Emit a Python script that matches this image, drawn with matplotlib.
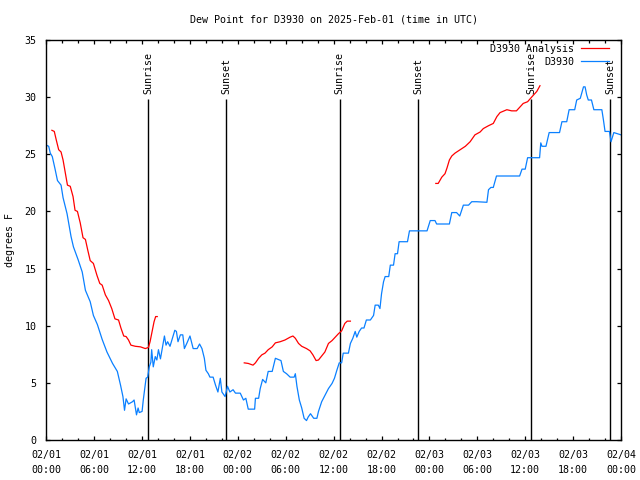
import matplotlib
matplotlib.use("Agg")
import matplotlib.pyplot as plt
import matplotlib.dates as mdates
import numpy as np
import pandas as pd

START = pd.Timestamp("2025-02-01 00:00")

# D3930 observations: hours after 02/01 00:00 UTC, dew point in F
OBS_HOURS = [
    0.0, 0.3, 0.5, 0.75, 1.1, 1.4, 1.85, 2.1, 2.6, 3.1, 3.4, 4.0, 4.5, 4.9, 5.5,
    5.9, 6.4, 7.0, 7.6, 8.3, 8.9, 9.3, 9.6, 9.8, 10.0, 10.3, 10.8, 11.0, 11.3,
    11.5, 11.65, 12.0, 12.15, 12.5, 12.7, 12.9, 13.1, 13.2, 13.4, 13.65, 13.85,
    14.05, 14.3, 14.5, 14.8, 15.0, 15.2, 15.5, 15.8, 16.1, 16.3, 16.5, 16.8,
    17.1, 17.3, 17.6, 18.0, 18.4, 18.9, 19.2, 19.5, 19.8, 20.0, 20.3, 20.5,
    20.9, 21.2, 21.5, 21.8, 22.0, 22.4, 22.7, 23.0, 23.4, 23.7, 24.3, 24.7,
    25.0, 25.3, 26.1, 26.2, 26.6, 26.8, 27.1, 27.5, 27.8, 28.3, 28.7, 29.4,
    29.7, 30.1, 30.55, 31.05, 31.2, 31.4, 31.7, 32.0, 32.3, 32.6, 32.8, 33.1,
    33.5, 33.9, 34.1, 34.5, 34.9, 35.35, 35.8, 36.1, 36.4, 36.7, 37.0, 37.2,
    37.85, 38.1, 38.4, 38.7, 38.9, 39.2, 39.5, 39.8, 40.1, 40.6, 41.0, 41.2,
    41.6, 41.8, 42.0, 42.25, 42.45, 42.9, 43.1, 43.5, 43.7, 44.0, 44.2, 45.25,
    45.5, 47.7, 48.1, 48.7, 48.9, 50.5, 50.8, 51.4, 51.8, 52.25, 52.9, 53.3,
    53.9, 55.2, 55.4, 55.7, 56.0, 56.4, 59.3, 59.6, 60.0, 60.3, 61.8, 61.95,
    62.1, 62.6, 63.0, 64.3, 64.6, 65.2, 65.5, 66.2, 66.45, 66.9, 67.3, 67.5,
    67.7, 67.9, 68.3, 68.6, 69.6, 69.8, 70.0, 70.55, 70.75, 71.1, 72.0,
]
OBS_DEWPT = [
    25.8, 25.7, 25.1, 24.8, 23.7, 22.7, 22.3, 21.2, 19.8, 17.8, 16.9, 15.75,
    14.7, 13.1, 12.1, 10.9, 10.1, 8.8, 7.7, 6.7, 6.0, 4.8, 3.8, 2.6, 3.6, 3.15,
    3.35, 3.5, 2.2, 2.8, 2.4, 2.5, 3.5, 5.4, 5.5, 6.4, 6.8, 7.9, 6.4, 7.3, 7.0,
    7.9, 7.1, 7.9, 9.1, 8.3, 8.6, 8.2, 8.9, 9.6, 9.5, 8.6, 9.2, 9.2, 8.0, 8.45,
    9.1, 8.0, 8.0, 8.4, 8.0, 7.15, 6.1, 5.8, 5.5, 5.5, 4.8, 4.2, 5.4, 4.2, 3.8,
    4.7, 4.2, 4.4, 4.1, 4.1, 3.5, 3.65, 2.7, 2.7, 3.65, 3.65, 4.5, 5.3, 5.0,
    6.0, 6.0, 7.15, 6.95, 6.0, 5.8, 5.5, 5.5, 5.8, 4.7, 3.5, 2.8, 1.9, 1.7,
    2.0, 2.3, 1.9, 1.9, 2.5, 3.35, 3.9, 4.5, 4.95, 5.4, 6.1, 6.75, 6.75, 7.6,
    7.6, 8.45, 8.9, 9.5, 9.0, 9.5, 9.8, 9.8, 10.5, 10.5, 10.9, 11.8, 11.8,
    11.5, 12.8, 13.85, 14.3, 14.3, 15.3, 15.3, 16.3, 16.3, 17.35, 17.35, 18.3,
    18.3, 19.2, 19.2, 18.9, 18.9, 19.9, 19.9, 19.6, 20.55, 20.55, 20.85, 20.85,
    20.8, 21.9, 22.1, 22.1, 23.1, 23.1, 23.7, 23.7, 24.7, 24.7, 26.0, 25.7,
    25.7, 26.9, 26.9, 27.85, 27.85, 28.9, 28.9, 29.75, 29.9, 30.9, 30.9, 30.2,
    29.75, 29.75, 28.9, 28.9, 28.0, 27.0, 27.0, 26.1, 26.9, 26.7,
]

# D3930 analysis, three separate runs
ANA1_HOURS = [
    0.7, 1.0, 1.25, 1.55, 1.85, 2.1, 2.4, 2.65, 3.0, 3.35, 3.6, 3.9, 4.25, 4.6,
    4.9, 5.2, 5.5, 5.9, 6.35, 6.7, 7.0, 7.4, 7.8, 8.2, 8.6, 9.05, 9.35, 9.7,
    10.0, 10.3, 10.6, 11.15, 11.8, 12.4, 12.8, 13.0, 13.2, 13.5, 13.7, 13.9,
]
ANA1_DEWPT = [
    27.1, 27.0, 26.25, 25.4, 25.2, 24.5, 23.3, 22.3, 22.2, 21.3, 20.1, 20.0,
    19.0, 17.7, 17.55, 16.6, 15.7, 15.45, 14.4, 13.7, 13.55, 12.7, 12.2, 11.5,
    10.6, 10.5, 9.8, 9.1, 9.05, 8.75, 8.3, 8.2, 8.15, 8.0, 8.1, 8.6, 9.3,
    10.35, 10.8, 10.8,
]
ANA2_HOURS = [
    24.8, 25.3, 25.9, 26.2, 26.6, 27.0, 27.4, 27.8, 28.3, 28.7, 29.3, 29.9,
    30.55, 30.9, 31.2, 31.6, 32.0, 32.6, 33.05, 33.4, 33.8, 34.1, 34.5, 34.9,
    35.35, 35.8, 36.2, 36.6, 37.0, 37.4, 37.7, 38.1,
]
ANA2_DEWPT = [
    6.75, 6.7, 6.55, 6.75, 7.15, 7.45, 7.6, 7.9, 8.15, 8.5, 8.6, 8.75, 9.0,
    9.1, 8.9, 8.45, 8.2, 8.0, 7.8, 7.45, 6.95, 7.0, 7.35, 7.7, 8.45, 8.7, 9.0,
    9.3, 9.55, 10.2, 10.4, 10.4,
]
ANA3_HOURS = [
    48.8, 49.1, 49.55, 49.95, 50.2, 50.5, 50.8, 51.2, 51.85, 52.5, 53.1, 53.7,
    54.35, 54.75, 55.4, 56.0, 56.45, 56.85, 57.7, 58.3, 58.9, 59.75, 60.3,
    60.8, 61.45, 61.85,
]
ANA3_DEWPT = [
    22.45, 22.45, 23.0, 23.3, 23.8, 24.5, 24.85, 25.1, 25.4, 25.7, 26.1, 26.7,
    26.95, 27.25, 27.5, 27.7, 28.3, 28.65, 28.9, 28.8, 28.8, 29.45, 29.6,
    30.0, 30.5, 31.0,
]

SUN_EVENTS = ["Sunrise", "Sunset", "Sunrise", "Sunset", "Sunrise", "Sunset"]
SUN_TIMES = [
    "2025-02-01 12:46", "2025-02-01 22:33",
    "2025-02-02 12:44", "2025-02-02 22:37",
    "2025-02-03 12:47", "2025-02-03 22:41",
]

ANALYSIS_COLOR = "#ff0000"
OBS_COLOR = "#0a80ff"
FONT = ["DejaVu Sans Mono"]
FS = 7.2

plt.rcParams["font.family"] = FONT
plt.rcParams["font.size"] = FS


def to_time(hours):
    return START + pd.to_timedelta(np.asarray(hours), unit="h")


fig = plt.figure(figsize=(6.4, 4.8), dpi=100)
ax = fig.add_axes([46.3 / 640, 40 / 480, 574.7 / 640, 400 / 480])

for i, (h, v) in enumerate([(ANA1_HOURS, ANA1_DEWPT),
                            (ANA2_HOURS, ANA2_DEWPT),
                            (ANA3_HOURS, ANA3_DEWPT)]):
    ax.plot(to_time(h), v, color=ANALYSIS_COLOR, lw=0.9,
            label="D3930 Analysis" if i == 0 else None)
ax.plot(to_time(OBS_HOURS), OBS_DEWPT, color=OBS_COLOR, lw=0.9, label="D3930")

sun_t = pd.to_datetime(SUN_TIMES)
ax.vlines(sun_t, 0, 29.8, color="black", lw=1.0, zorder=1)
for t, name in zip(sun_t, SUN_EVENTS):
    ax.text(t, 30.25, name, rotation=90, ha="center", va="bottom", fontsize=FS)

ax.set_xlim(START, START + pd.Timedelta(hours=72))
ax.set_ylim(0, 35)
ax.set_yticks(range(0, 36, 5))
ax.xaxis.set_major_locator(mdates.HourLocator(byhour=range(0, 24, 6)))
ax.xaxis.set_minor_locator(mdates.HourLocator(byhour=range(0, 24, 2)))
ax.xaxis.set_major_formatter(mdates.DateFormatter("%m/%d\n%H:%M"))
ax.tick_params(which="both", direction="in", top=True, right=True,
               width=0.9, labelsize=FS)
ax.tick_params(which="major", length=3.2)
ax.tick_params(which="minor", length=1.8)
ax.tick_params(axis="x", pad=7)
ax.tick_params(axis="y", pad=7)
for lab in ax.get_xticklabels():
    lab.set_linespacing(1.6)
for sp in ax.spines.values():
    sp.set_linewidth(1.0)

leg = ax.legend(loc="upper right", bbox_to_anchor=(0.9797, 0.99),
                frameon=False, markerfirst=False, fontsize=FS,
                handlelength=2.8, handletextpad=0.7, labelspacing=0.3,
                borderaxespad=0.0, borderpad=0.0)

fig.text(333.6 / 640, 1 - 20 / 480,
         "Dew Point for D3930 on 2025-Feb-01 (time in UTC)",
         ha="center", va="center", fontsize=FS)
fig.text(10 / 640, 0.5, "degrees F", rotation=90, ha="center", va="center",
         fontsize=FS)

fig.savefig("out.png", dpi=100)
